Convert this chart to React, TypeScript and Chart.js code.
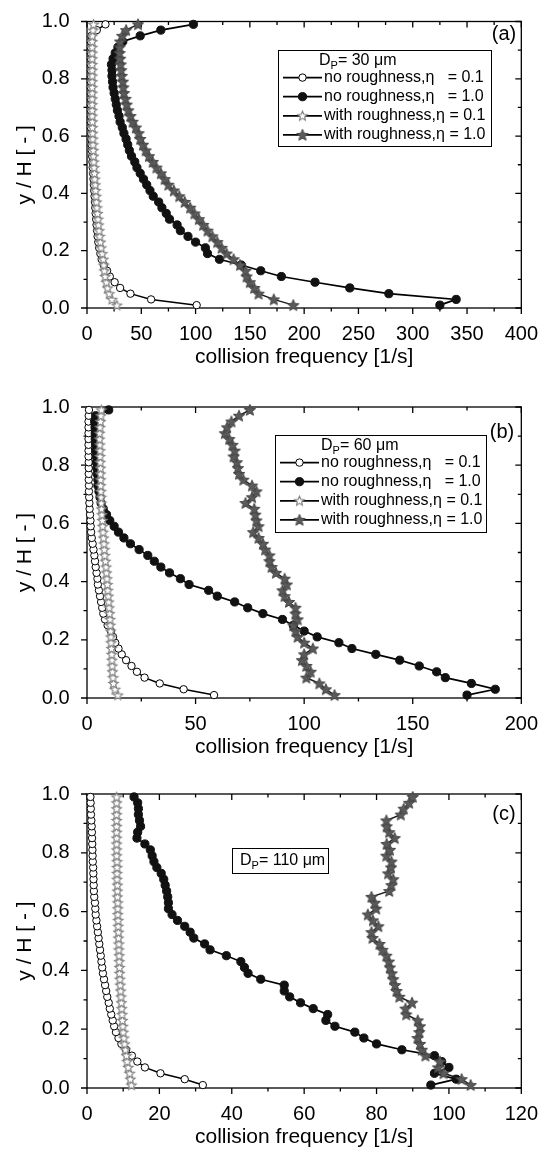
import React, { useEffect, useRef } from 'react';
import { Chart, registerables } from 'chart.js';

Chart.register(...registerables);

const FONT = "'Liberation Sans', Arial, Helvetica, sans-serif";

// y / H positions of the profile points (shared by all series)
const yPos = [0.01, 0.03, 0.05, 0.07, 0.09, 0.11, 0.13, 0.15, 0.17, 0.19, 0.21, 0.23, 0.25, 0.27, 0.29, 0.31, 0.33, 0.35, 0.37, 0.39, 0.41, 0.43, 0.45, 0.47, 0.49, 0.51, 0.53, 0.55, 0.57, 0.59, 0.61, 0.63, 0.65, 0.67, 0.69, 0.71, 0.73, 0.75, 0.77, 0.79, 0.81, 0.83, 0.85, 0.87, 0.89, 0.91, 0.93, 0.95, 0.97, 0.99];

const seriesLabels = [
  'no roughness,\u03b7   = 0.1',
  'no roughness,\u03b7   = 1.0',
  'with roughness,\u03b7 = 0.1',
  'with roughness,\u03b7 = 1.0',
];

// ---------- panel (a) D_P = 30 um ----------
const aNoRough01 = [101, 59, 40, 30.5, 25.5, 21, 18.5, 15.5, 13.5, 12.3, 11.2, 10.4, 9.8, 9.3, 8.8, 8.4, 8, 7.6, 7.3, 7, 6.6, 6.3, 6, 5.6, 5.3, 5, 4.7, 4.4, 4.2, 4, 3.8, 3.6, 3.6, 3.6, 3.6, 3.6, 3.6, 3.6, 3.6, 3.6, 3.6, 3.6, 3.6, 3.6, 3.6, 3.6, 3.6, 4, 9, 17];
const aNoRough10 = [325, 340, 278, 242, 210, 179, 160, 142, 122, 111, 109, 100, 93, 86, 83, 76, 73, 69, 66, 61, 58, 55, 52, 49, 46, 44, 41, 39, 37.5, 36, 34, 32.5, 30.5, 29.5, 28, 27, 26, 25, 24, 23.5, 23, 23, 22.5, 24, 26, 28.5, 33, 49, 68, 98];
const aRough01 = [27.5, 23, 20.5, 19, 17.8, 16.7, 16, 15.5, 15, 14, 13, 12.4, 11.8, 11.2, 10.7, 10.2, 9.7, 9.2, 8.8, 8.4, 8, 7.6, 7.2, 6.9, 6.6, 6.3, 6, 5.8, 5.6, 5.4, 5.2, 5, 5, 4.8, 4.8, 4.8, 4.8, 4.8, 4.8, 4.8, 4.8, 4.8, 4.8, 4.8, 4.8, 4.8, 4.8, 5, 5.5, 6];
const aRough10 = [190, 172, 158, 154, 150, 147, 146, 141, 135, 128.5, 124, 120, 115.5, 111, 107, 103, 99, 95, 90, 85, 80, 75, 71.5, 68, 64, 60.5, 57, 54, 51.5, 49, 47.5, 45, 42, 40, 38, 36.5, 35.5, 34, 33.5, 33, 32, 31.5, 31, 30.5, 30, 30, 30.5, 32.5, 36, 47];

// ---------- panel (b) D_P = 60 um ----------
const bNoRough01 = [58.5, 44.5, 33.5, 26.5, 23, 20.5, 18, 16, 14.5, 13, 12, 11, 9.5, 8.3, 7.5, 7, 6.5, 6, 5.5, 5, 4.8, 4.4, 4, 3.7, 3.4, 3, 2.6, 2.2, 1.9, 1.7, 1.6, 1.4, 1.2, 1.1, 1, 0.9, 0.9, 0.8, 0.8, 0.8, 0.8, 0.7, 0.7, 0.7, 0.7, 0.7, 0.7, 0.7, 0.8, 0.9];
const bNoRough10 = [175, 188, 177, 165, 161, 153, 144, 133, 122, 116, 106, 100, 95, 90, 81, 74, 68, 60, 56, 47, 43, 38, 34, 31, 28, 24, 20, 17, 14.5, 12.5, 10.5, 9, 7.5, 6.5, 6, 5.5, 5, 5, 4.7, 4.5, 4.3, 4.2, 4, 4, 3.8, 3.8, 3.7, 3.5, 4, 10];
const bRough01 = [14.2, 12.9, 12.2, 12, 11.7, 11.6, 11.5, 11.4, 11.3, 11.1, 11, 10.9, 10.7, 10.6, 10.4, 10.2, 10, 9.8, 9.6, 9.4, 9.2, 9, 8.8, 8.5, 8.2, 8, 7.8, 7.6, 7.4, 7.2, 7.1, 6.9, 6.7, 6.6, 6.5, 6.4, 6.3, 6.3, 6.2, 6.2, 6.1, 6, 6, 5.9, 5.8, 5.8, 6, 6.2, 6.4, 6.6];
const bRough10 = [114, 110, 107, 101, 103, 101, 99, 100, 104, 100, 97, 96, 95, 97, 96, 96, 93, 91, 90, 92, 91, 87, 85, 84, 84, 82, 81, 79, 76.5, 79, 78, 77.5, 77, 73, 76, 78, 76, 72, 70, 69.5, 69, 67.5, 68, 67, 65.5, 63.5, 64.5, 66.5, 70, 75];

// ---------- panel (c) D_P = 110 um ----------
const cNoRough01 = [32, 27, 20.3, 16, 13.9, 12.4, 10.8, 9.5, 8.7, 8, 7.5, 7.1, 6.7, 6.3, 6, 5.6, 5.3, 5, 4.7, 4.4, 4.2, 4, 3.8, 3.6, 3.4, 3.2, 3, 2.8, 2.6, 2.4, 2.3, 2.2, 2, 1.9, 1.85, 1.8, 1.75, 1.7, 1.6, 1.55, 1.5, 1.45, 1.4, 1.35, 1.3, 1.2, 1.1, 1.05, 1, 0.95];
const cNoRough10 = [95, 102, 96, 100, 98, 96, 87, 80, 76.5, 74, 68.5, 66, 66.5, 62.5, 59, 56, 54.5, 54.5, 48, 44.5, 43.5, 42.5, 38.5, 34, 32.5, 29.5, 28.5, 27, 25, 23.5, 22.5, 22.5, 22.3, 22, 21.6, 21.2, 20.5, 19.3, 18.5, 18, 17.5, 16, 13.8, 14, 14.8, 14.5, 14.2, 14.2, 14, 13];
const cRough01 = [12.3, 12, 11.8, 11.4, 11.1, 10.9, 10.6, 10.4, 10.2, 10, 9.9, 9.8, 9.7, 9.6, 9.5, 9.4, 9.3, 9.2, 9.1, 9, 9, 8.9, 8.9, 8.8, 8.8, 8.7, 8.7, 8.6, 8.6, 8.5, 8.5, 8.5, 8.4, 8.4, 8.4, 8.3, 8.3, 8.3, 8.3, 8.2, 8.2, 8.2, 8.2, 8.2, 8.2, 8.2, 8.2, 8.2, 8.2, 8.2];
const cRough10 = [106, 103.5, 98.5, 97, 97.5, 93.5, 92.5, 92, 91.3, 91.8, 92, 91.4, 88.2, 88, 89.8, 86.3, 85.5, 85.1, 84.6, 84.2, 83.7, 83.4, 82.7, 81.6, 80.8, 78.9, 78.6, 80.5, 79, 77.6, 79.9, 79.5, 78.6, 83.5, 84.1, 84.6, 83.2, 84, 84.1, 82.7, 83.7, 82.8, 85, 83.5, 82.8, 82.7, 86.7, 87.5, 89, 90];

// tick labels
const xTicksA = [0, 50, 100, 150, 200, 250, 300, 350, 400];
const xTicksB = [0, 50, 100, 150, 200];
const xTicksC = [0, 20, 40, 60, 80, 100, 120];
const yTicks = [0, 0.2, 0.4, 0.6, 0.8, 1.0];

const xTitle = 'collision frequency [1/s]';
const yTitle = 'y / H [ - ]';

type LegendCfg = { x: number; y: number; w: number; h: number; titleX: number; titleY: number; dp: string; rows: boolean };
type PanelCfg = {
  key: string; canvasTop: number; height: number; plotTop: number; plotBottom: number;
  xTicks: number[]; series: number[][]; tag: string; tagX: number; tagY: number;
  xTitleCenter: number; legend: LegendCfg;
};

const panels: PanelCfg[] = [
  {
    key: 'a', canvasTop: 0, height: 385, plotTop: 17, plotBottom: 308,
    xTicks: xTicksA, series: [aNoRough01, aNoRough10, aRough01, aRough10],
    tag: '(a)', tagX: 504, tagY: 34, xTitleCenter: 357,
    legend: { x: 278, y: 50, w: 213, h: 96, titleX: 319, titleY: 61, dp: '= 30 \u03bcm', rows: true },
  },
  {
    key: 'b', canvasTop: 385, height: 385, plotTop: 22, plotBottom: 313,
    xTicks: xTicksB, series: [bNoRough01, bNoRough10, bRough01, bRough10],
    tag: '(b)', tagX: 502, tagY: 47, xTitleCenter: 362,
    legend: { x: 275, y: 50, w: 211, h: 97, titleX: 321, titleY: 61, dp: '= 60 \u03bcm', rows: true },
  },
  {
    key: 'c', canvasTop: 770, height: 382, plotTop: 24, plotBottom: 318,
    xTicks: xTicksC, series: [cNoRough01, cNoRough10, cRough01, cRough10],
    tag: '(c)', tagX: 504, tagY: 44, xTitleCenter: 367,
    legend: { x: 232, y: 78, w: 96, h: 25, titleX: 240, titleY: 90.5, dp: '= 110 \u03bcm', rows: false },
  },
];

function makeStar(R: number, fill: string, stroke: string, lw: number): HTMLCanvasElement {
  const size = Math.ceil(2 * R + 2 * lw + 2);
  const c = document.createElement('canvas');
  c.width = size;
  c.height = size;
  const ctx = c.getContext('2d')!;
  const cx = size / 2, cy = size / 2 + R * 0.08;
  const r = R * 0.45;
  ctx.beginPath();
  for (let i = 0; i < 10; i++) {
    const ang = -Math.PI / 2 + (i * Math.PI) / 5;
    const rad = i % 2 === 0 ? R : r;
    const px = cx + rad * Math.cos(ang), py = cy + rad * Math.sin(ang);
    if (i === 0) ctx.moveTo(px, py); else ctx.lineTo(px, py);
  }
  ctx.closePath();
  ctx.fillStyle = fill;
  ctx.fill();
  ctx.lineWidth = lw;
  ctx.strokeStyle = stroke;
  ctx.stroke();
  return c;
}

function PanelChart({ cfg }: { cfg: PanelCfg }) {
  const ref = useRef<HTMLCanvasElement | null>(null);
  useEffect(() => {
    if (!ref.current) return;
    const openStar = makeStar(5, '#ffffff', '#7c7c7c', 1.1);
    const fullStar = makeStar(6, '#5a5a5a', '#444444', 1);
    const styles: any[] = [
      { pointStyle: 'circle', pointRadius: 3.7, pointBackgroundColor: '#ffffff', pointBorderColor: '#000000', pointBorderWidth: 1, borderColor: '#000000', borderWidth: 1.5 },
      { pointStyle: 'circle', pointRadius: 4.1, pointBackgroundColor: '#111111', pointBorderColor: '#111111', pointBorderWidth: 1, borderColor: '#000000', borderWidth: 1.7 },
      { pointStyle: openStar, pointRadius: 5, borderColor: '#333333', borderWidth: 1 },
      { pointStyle: fullStar, pointRadius: 6, borderColor: '#1a1a1a', borderWidth: 1.5 },
    ];
    const datasets = cfg.series.map((xs, i) => ({
      label: seriesLabels[i],
      data: xs.map((x, k) => ({ x, y: yPos[k] })),
      showLine: true,
      tension: 0,
      clip: false as any,
      order: 3 - i,
      ...styles[i],
    }));

    const lw = 1.3;
    const decor = {
      id: 'decor' + cfg.key,
      beforeDatasetsDraw(chart: any) {
        const { ctx, chartArea } = chart;
        const { left, right, top, bottom } = chartArea;
        const xs = chart.scales.x, ys = chart.scales.y;
        ctx.save();
        ctx.strokeStyle = '#000';
        ctx.lineWidth = lw;
        ctx.strokeRect(left, top, right - left, bottom - top);
        ctx.beginPath();
        const xt = cfg.xTicks;
        for (let i = 0; i < xt.length; i++) {
          const px = xs.getPixelForValue(xt[i]);
          ctx.moveTo(px, bottom); ctx.lineTo(px, bottom + 6);
          ctx.moveTo(px, top); ctx.lineTo(px, top + 6);
          if (i < xt.length - 1) {
            const pm = xs.getPixelForValue((xt[i] + xt[i + 1]) / 2);
            ctx.moveTo(pm, bottom); ctx.lineTo(pm, bottom + 3.5);
            ctx.moveTo(pm, top); ctx.lineTo(pm, top + 3.5);
          }
        }
        for (let i = 0; i < yTicks.length; i++) {
          const py = ys.getPixelForValue(yTicks[i]);
          ctx.moveTo(left, py); ctx.lineTo(left - 6, py);
          ctx.moveTo(right, py); ctx.lineTo(right - 6, py);
          if (i < yTicks.length - 1) {
            const pm = ys.getPixelForValue((yTicks[i] + yTicks[i + 1]) / 2);
            ctx.moveTo(left, pm); ctx.lineTo(left - 3.5, pm);
            ctx.moveTo(right, pm); ctx.lineTo(right - 3.5, pm);
          }
        }
        ctx.stroke();
        ctx.restore();
      },
      afterDraw(chart: any) {
        const { ctx } = chart;
        const L = cfg.legend;
        ctx.save();
        // panel tag
        ctx.fillStyle = '#000';
        ctx.font = `20px ${FONT}`;
        ctx.textAlign = 'center';
        ctx.textBaseline = 'middle';
        ctx.fillText(cfg.tag, cfg.tagX, cfg.tagY);
        // legend box
        ctx.fillStyle = '#fff';
        ctx.fillRect(L.x, L.y, L.w, L.h);
        ctx.strokeStyle = '#000';
        ctx.lineWidth = 1;
        ctx.strokeRect(L.x + 0.5, L.y + 0.5, L.w, L.h);
        ctx.fillStyle = '#000';
        ctx.textAlign = 'left';
        ctx.textBaseline = 'middle';
        ctx.font = `16px ${FONT}`;
        let tx = L.titleX;
        ctx.fillText('D', tx, L.titleY);
        tx += ctx.measureText('D').width;
        ctx.font = `11px ${FONT}`;
        ctx.fillText('P', tx, L.titleY + 5);
        tx += ctx.measureText('P').width;
        ctx.font = `16px ${FONT}`;
        ctx.fillText(L.dp, tx, L.titleY);
        if (L.rows) {
          for (let i = 0; i < 4; i++) {
            const ry = L.y + 27.6 + i * 19.1;
            const st = styles[i];
            ctx.strokeStyle = '#000';
            ctx.lineWidth = 1.7;
            ctx.beginPath();
            ctx.moveTo(L.x + 5, ry);
            ctx.lineTo(L.x + 44, ry);
            ctx.stroke();
            const mx = L.x + 24.5;
            if (st.pointStyle === 'circle') {
              ctx.beginPath();
              ctx.arc(mx, ry, st.pointRadius, 0, Math.PI * 2);
              ctx.fillStyle = st.pointBackgroundColor;
              ctx.fill();
              ctx.lineWidth = 1;
              ctx.strokeStyle = st.pointBorderColor;
              ctx.stroke();
            } else {
              const img = st.pointStyle as HTMLCanvasElement;
              ctx.drawImage(img, mx - img.width / 2, ry - img.height / 2);
            }
            ctx.fillStyle = '#000';
            ctx.fillText(seriesLabels[i], L.x + 46, ry);
          }
        }
        ctx.restore();
      },
    };

    const tickFont = { family: FONT, size: 20 };
    const titleFont = { family: FONT, size: 21 };
    const titleLH = 21 * 1.2;
    const xMax = cfg.xTicks[cfg.xTicks.length - 1];

    const chart = new Chart(ref.current, {
      type: 'scatter',
      data: { datasets: datasets as any },
      plugins: [decor],
      options: {
        responsive: false,
        maintainAspectRatio: false,
        animation: false,
        events: [],
        layout: { padding: { left: 0, right: 544 - 526, top: cfg.plotTop, bottom: 0 } },
        plugins: { legend: { display: false }, tooltip: { enabled: false }, title: { display: false } },
        scales: {
          x: {
            type: 'linear', min: 0, max: xMax,
            afterBuildTicks: (s: any) => { s.ticks = cfg.xTicks.map((v) => ({ value: v })); },
            afterFit: (s: any) => { s.height = cfg.height - cfg.plotBottom; },
            grid: { display: false }, border: { display: false },
            ticks: { font: tickFont, color: '#000', padding: 6, maxRotation: 0, autoSkip: false, callback: (v: any) => String(v) },
            title: { display: true, text: xTitle, font: titleFont, color: '#000', padding: { top: 0, bottom: cfg.height - cfg.xTitleCenter - titleLH / 2 } },
          },
          y: {
            type: 'linear', min: 0, max: 1,
            afterBuildTicks: (s: any) => { s.ticks = yTicks.map((v) => ({ value: v })); },
            afterFit: (s: any) => { s.width = 87; },
            grid: { display: false }, border: { display: false },
            ticks: { font: tickFont, color: '#000', padding: 9.5, autoSkip: false, callback: (v: any) => Number(v).toFixed(1) },
            title: { display: true, text: yTitle, font: titleFont, color: '#000', padding: { top: 25 - titleLH / 2, bottom: 0 } },
          },
        },
      } as any,
    });
    return () => chart.destroy();
  }, [cfg]);
  return (
    <canvas
      ref={ref}
      width={544}
      height={cfg.height}
      style={{ position: 'absolute', left: 0, top: cfg.canvasTop, width: 544, height: cfg.height, display: 'block' }}
    />
  );
}

export default function App() {
  return (
    <div style={{ position: 'absolute', left: 0, top: 0, width: 544, height: 1152, background: '#ffffff', overflow: 'hidden' }}>
      {panels.map((p) => (
        <PanelChart key={p.key} cfg={p} />
      ))}
    </div>
  );
}
